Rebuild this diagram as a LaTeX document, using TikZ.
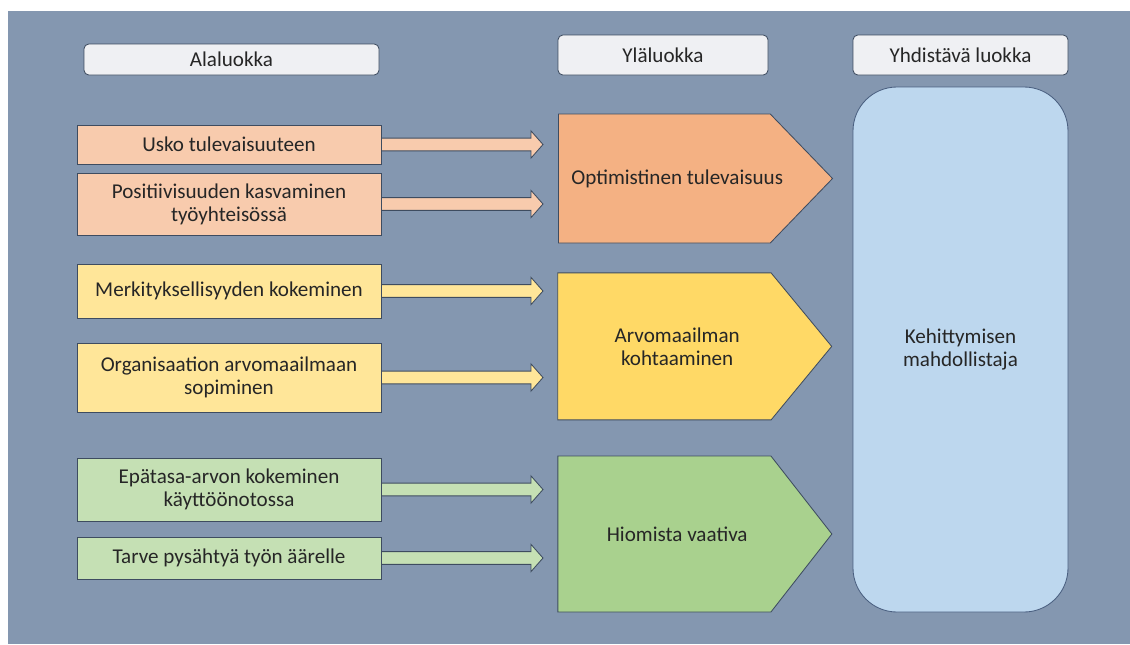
\documentclass[tikz,border=0pt]{standalone}
\usepackage{fontspec}
\setmainfont{Carlito}
\usepackage{tikz}
\usetikzlibrary{shapes,arrows.meta,calc}

\definecolor{backcol}{HTML}{8497B0}
\definecolor{linecol}{HTML}{3E4C60}
\definecolor{textcol}{HTML}{262626}
\definecolor{headcol}{HTML}{EFF0F3}
\definecolor{orangelight}{HTML}{F8CBAD}
\definecolor{orangedark}{HTML}{F4B183}
\definecolor{yellowlight}{HTML}{FFE699}
\definecolor{yellowdark}{HTML}{FFD966}
\definecolor{greenlight}{HTML}{C5E0B4}
\definecolor{greendark}{HTML}{A9D18E}
\definecolor{bluecol}{HTML}{BDD7EE}
\definecolor{blueline}{HTML}{4A5F80}

\begin{document}
\begin{tikzpicture}
	\useasboundingbox (0,0) rectangle (28.25,-16.1);
	\fill[backcol] (0.2,-0.275) rectangle (28.25,-16.1);
		\begin{scope}
            [
                every node/.style={
					text=textcol, align=center, font=\fontsize{15}{16.5}\selectfont },
				headbox/.style = {draw=linecol, line width=0.6pt, fill=headcol, rounded corners=0.12cm, minimum height=1cm},
				subbox/.style = {draw=linecol, line width=0.6pt, fill=#1, minimum width=7.6cm},
				mainbox/.style = {draw=linecol, line width=0.6pt, fill=#1, signal, signal to=east, minimum width=6.85cm}
            ]
            
			\node(a)[headbox, minimum width=7.375cm, minimum height=0.775cm] at (5.7875,-1.4875) {Alaluokka};
			\node(b)[headbox, minimum width=5.25cm] at (16.575,-1.375) {Yläluokka};
			\node(c)[headbox, minimum width=5.375cm] at (24.0125,-1.375) {Yhdistävä luokka};
			
			\node(d)[draw=blueline, line width=0.6pt, fill=bluecol, rounded corners=1.1cm, minimum width=5.375cm, minimum height=13.125cm] at (24.0125,-8.7375) {Kehittymisen\\mahdollistaja};
			
			\node(e)[subbox=orangelight, minimum height=0.975cm] at (5.725,-3.6125) {Usko tulevaisuuteen};
			\node(f)[subbox=orangelight, minimum height=1.55cm] at (5.725,-5.1) {Positiivisuuden kasvaminen\\työyhteisössä};
			\node(g)[subbox=yellowlight, minimum height=1.35cm] at (5.725,-7.275) {Merkityksellisyyden kokeminen};
			\node(h)[subbox=yellowlight, minimum height=1.725cm] at (5.725,-9.4375) {Organisaation arvomaailmaan\\sopiminen};
			\node(i)[subbox=greenlight, minimum height=1.575cm] at (5.725,-12.2375) {Epätasa-arvon kokeminen\\käyttöönotossa};
			\node(j)[subbox=greenlight, minimum height=1.05cm] at (5.725,-13.95) {Tarve pysähtyä työn äärelle};
			
			\node(k)[mainbox=orangedark, minimum height=3.225cm, signal pointer angle=92, label={[xshift=0.32cm]center:Optimistinen tulevaisuus}] at (16.61,-4.4625) {};
			\node(l)[mainbox=yellowdark, minimum height=3.675cm, signal pointer angle=101, label={[xshift=0.32cm]center:Arvomaailman\\kohtaaminen}] at (16.61,-8.66) {};
			\node(m)[mainbox=greendark, minimum height=3.9cm, signal pointer angle=104, label={[xshift=0.32cm]center:Hiomista vaativa}] at (16.61,-13.35) {};

		\end{scope}
		\begin{scope}
            [
                every edge/.style={draw=linecol, line width=0.6pt},
				blockarrow/.style = {fill=#1, to path={let \p1=(\tikztostart), \p2=(\tikztotarget) in
					(\x1,\y1+1.6mm) -- (\x2-3mm,\y1+1.6mm) -- (\x2-3mm,\y1+3.4mm) -- (\x2,\y1)
					-- (\x2-3mm,\y1-3.4mm) -- (\x2-3mm,\y1-1.6mm) -- (\x1,\y1-1.6mm) -- cycle}}
            ]
            \coordinate (te) at (13.575,-3.6125);
            \coordinate (tf) at (13.575,-5.1);
            \coordinate (tg) at (13.575,-7.275);
            \coordinate (th) at (13.575,-9.4375);
            \coordinate (ti) at (13.575,-12.2375);
            \coordinate (tj) at (13.575,-13.95);
            \path 
            (e.east) edge[blockarrow=orangelight] (te)
            (f.east) edge[blockarrow=orangelight] (tf)
			(g.east) edge[blockarrow=yellowlight] (tg)
			(h.east) edge[blockarrow=yellowlight] (th)
			(i.east) edge[blockarrow=greenlight] (ti)
			(j.east) edge[blockarrow=greenlight] (tj);
		\end{scope}
    \end{tikzpicture}
\end{document}
